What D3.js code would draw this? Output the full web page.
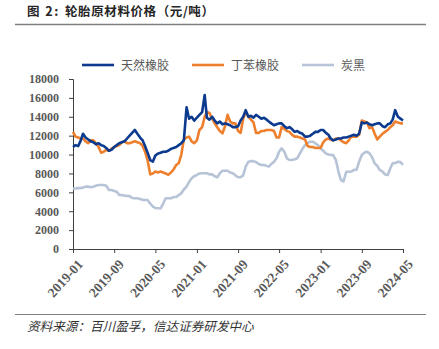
<!DOCTYPE html>
<html><head><meta charset="utf-8">
<script src="https://cdn.jsdelivr.net/npm/d3@7"></script>
<style>
html,body{margin:0;padding:0;background:#fff;}
svg{display:block;}
</style></head>
<body><svg id="c" width="439" height="349"></svg>
<script>
// ---- data (semi-monthly, 2019-01 .. 2024-05, 元/吨) ----
const startMonth = "2019-01";
const seriesNames = ["天然橡胶", "丁苯橡胶", "炭黑"];
const seriesColors = ["#0b3a8e", "#ee7f2d", "#b7c3d6"];
const tickLabels = ["2019-01","2019-09","2020-05","2021-01","2021-09","2022-05","2023-01","2023-09","2024-05"];
const yTicks = [0,2000,4000,6000,8000,10000,12000,14000,16000,18000];

const naturalRubber = [
 10800,11000,10900,11500,12200,11800,11600,11400,11300,11100,
 11200,11000,10900,10700,10400,10500,10800,11000,11200,11300,
 11400,11700,12000,12300,12600,12200,11800,11500,10900,10200,
 9400,9250,9900,10100,10200,10300,10300,10400,10600,10700,
 10800,11000,11200,11500,15000,13800,14000,13600,13900,14200,
 14500,16300,13900,13700,14000,13600,13300,13500,13200,13300,
 13200,13100,12900,12900,13000,13600,14000,14700,14000,14100,
 13900,14200,14000,13800,13900,13700,13500,13300,13100,13200,
 13300,13300,13000,12800,12900,12700,12400,12500,12300,12200,
 11900,11900,12000,12200,12400,12400,12600,12600,12300,12100,
 11700,11500,11600,11700,11700,11800,11800,11900,12000,12100,
 12000,12200,13400,13300,13400,13200,13100,13200,13300,13300,
 13000,12900,13200,13300,13700,14700,14000,13800,13600
];
const styreneRubber = [
 12400,11900,11800,11700,11700,11400,11200,11500,11500,11200,
 10800,10200,10300,10500,10400,10600,10800,10900,11000,11300,
 11400,11200,11200,11300,11400,11300,11200,10900,10300,9400,
 7900,8000,8200,8100,8200,8100,8000,7850,8100,8400,
 8900,9100,10000,11600,11800,11900,11400,11200,11500,12600,
 12900,14000,14500,14400,13800,13300,12900,12500,12250,13000,
 14200,13500,13300,13300,12500,12300,13800,14500,14000,13700,
 13400,12300,12300,12500,12500,12600,12600,12600,12500,11800,
 11800,12900,12700,12500,12400,12100,11900,11900,11800,11700,
 11600,10900,10800,10800,10700,10700,10700,11300,11600,11700,
 11600,11500,11700,11700,11500,11300,11200,11500,11900,11900,
 11900,12100,13600,13500,13400,12800,12900,12200,11600,11900,
 12200,12400,12600,12900,13100,13500,13400,13300,13300
];
const carbonBlack = [
 6400,6400,6450,6450,6500,6600,6600,6550,6600,6700,
 6780,6780,6780,6700,6250,6250,6150,6070,5720,5720,
 5650,5610,5600,5400,5370,5370,5300,5200,5190,5190,
 4800,4500,4350,4310,4310,4800,5370,5370,5370,5500,
 5500,5700,5900,6300,6600,7100,7490,7700,7840,8000,
 8020,8020,8020,7900,7900,7700,7600,8000,8290,8290,
 8290,8100,8020,7800,7600,7600,7800,8720,9240,9300,
 9300,9200,9000,8900,8900,8800,8720,9000,9240,9600,
 10300,10660,10300,9600,9420,9420,9500,9600,10130,10600,
 11010,11200,11360,11360,11190,11000,10660,10400,10130,10000,
 9950,9950,9420,8200,7300,7150,8180,8180,8200,8370,
 8400,9240,9950,10200,10300,10130,9700,9070,8800,8370,
 8200,7900,7840,8550,9070,9100,9240,9200,8900
];
const sourceText = "资料来源：百川盈孚，信达证券研发中心";
const titleLead = "图 2:";
const titleMain = "轮胎原材料价格（元/吨）";

// ---- build ----
const svg = d3.select("#c");
const parseM = d3.timeParse("%Y-%m");
const t0 = parseM(startMonth);
const dates = naturalRubber.map((_, i) => new Date(t0.getFullYear(), t0.getMonth() + Math.floor(i / 2), i % 2 ? 16 : 1));
const seriesVals = [naturalRubber, styreneRubber, carbonBlack];

const x = d3.scaleTime().domain([parseM(tickLabels[0]), parseM(tickLabels[tickLabels.length - 1])]).range([73, 403]);
const y = d3.scaleLinear().domain([0, 18000]).range([249, 79]);

// title
const title = svg.append("text").attr("y", 16).attr("font-family", "'Noto Sans CJK SC', sans-serif")
  .attr("font-weight", "bold").attr("font-size", 12.5).attr("fill", "#262626");
title.append("tspan").attr("x", 27).attr("letter-spacing", 1.5).text(titleLead);
title.append("tspan").attr("x", 65).attr("letter-spacing", 0.6).text(titleMain);
svg.append("line").attr("x1", 15).attr("x2", 426).attr("y1", 24.5).attr("y2", 24.5)
  .attr("stroke", "#7f7f7f").attr("stroke-width", 1.5);

// source
svg.append("line").attr("x1", 15).attr("x2", 426).attr("y1", 314.5).attr("y2", 314.5)
  .attr("stroke", "#7f7f7f").attr("stroke-width", 1.2);
svg.append("text").attr("x", 27).attr("y", 331).attr("font-family", "'Noto Sans CJK SC', sans-serif")
  .attr("font-style", "italic").attr("font-size", 12.6).attr("fill", "#333").text(sourceText);

// axes
const yAxis = d3.axisLeft(y).tickValues(yTicks).tickSize(4).tickPadding(10).tickFormat(d3.format("d"));
const gy = svg.append("g").attr("transform", "translate(73,0)").call(yAxis);
gy.select(".domain").attr("stroke", "#404040");
gy.selectAll(".tick line").attr("stroke", "#404040");
gy.selectAll("text").attr("font-family", "'Liberation Serif', serif").attr("font-weight", "bold")
  .attr("font-size", 12).attr("fill", "#595959");

const xAxis = d3.axisBottom(x).tickValues(tickLabels.map(parseM)).tickSize(4).tickFormat(d3.timeFormat("%Y-%m"));
const gx = svg.append("g").attr("transform", "translate(0,249)").call(xAxis);
gx.select(".domain").attr("stroke", "#404040");
gx.selectAll(".tick line").attr("stroke", "#404040");
gx.selectAll("text").attr("font-family", "'Liberation Serif', serif").attr("font-weight", "bold")
  .attr("font-size", 13.5).attr("fill", "#595959")
  .attr("text-anchor", "end").attr("dx", 0).attr("dy", 0)
  .attr("transform", "translate(5,11) rotate(-48)");

// lines: gray, orange, blue on top
const line = d3.line().x((d, i) => x(dates[i])).y(d => y(d));
const order = [2, 1, 0];
order.forEach(k => {
  svg.append("path").datum(seriesVals[k]).attr("d", line)
    .attr("fill", "none").attr("stroke", seriesColors[k]).attr("stroke-width", 2.6)
    .attr("stroke-linejoin", "round");
});

// legend
const legX = [82, 192, 302];
seriesNames.forEach((n, k) => {
  svg.append("line").attr("x1", legX[k]).attr("x2", legX[k] + 32).attr("y1", 65).attr("y2", 65)
    .attr("stroke", seriesColors[k]).attr("stroke-width", 2.6);
  svg.append("text").attr("x", legX[k] + 39).attr("y", 69.5)
    .attr("font-family", "'Noto Sans CJK SC', sans-serif").attr("font-size", 12).attr("fill", "#595959").text(n);
});
</script>
</body></html>
